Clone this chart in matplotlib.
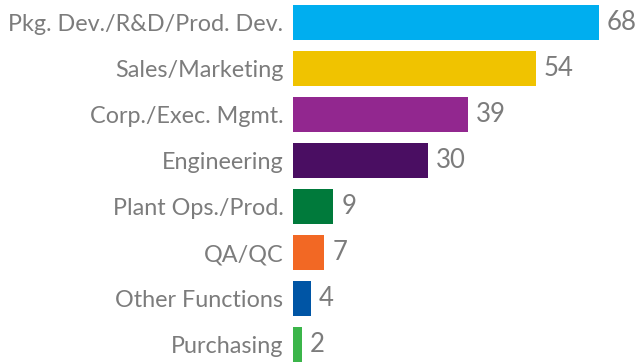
import matplotlib.pyplot as plt

functions = ['Pkg. Dev./R&D/Prod. Dev.', 'Sales/Marketing', 'Corp./Exec. Mgmt.',
             'Engineering', 'Plant Ops./Prod.', 'QA/QC', 'Other Functions', 'Purchasing']
counts = [68, 54, 39, 30, 9, 7, 4, 2]
colors = ['#00AEEF', '#F0C300', '#92278F', '#4A0E62', '#007A3B', '#F26824', '#0055A5', '#3BB54A']

text_color = '#7c7c7c'
plt.rcParams['font.family'] = ['Lato', 'DejaVu Sans']

fig = plt.figure(figsize=(6.39, 3.62), dpi=100)
ax = fig.add_axes([293 / 639, 0, 1 - 293 / 639, 1])

ypos = range(len(functions))
ax.barh(ypos, counts, height=0.76, color=colors)
ax.set_ylim(7.38, -0.49)
ax.set_xlim(0, 76.9)

for y, v in zip(ypos, counts):
    ax.text(v + 1.7, y, str(v), va='center', ha='left', fontsize=18.5, color=text_color)

ax.set_yticks(list(ypos))
ax.set_yticklabels(functions, fontsize=16.8, color=text_color)
ax.tick_params(axis='y', length=0, pad=7)
ax.set_xticks([])
for s in ax.spines.values():
    s.set_visible(False)

fig.savefig('out.png', dpi=100)
